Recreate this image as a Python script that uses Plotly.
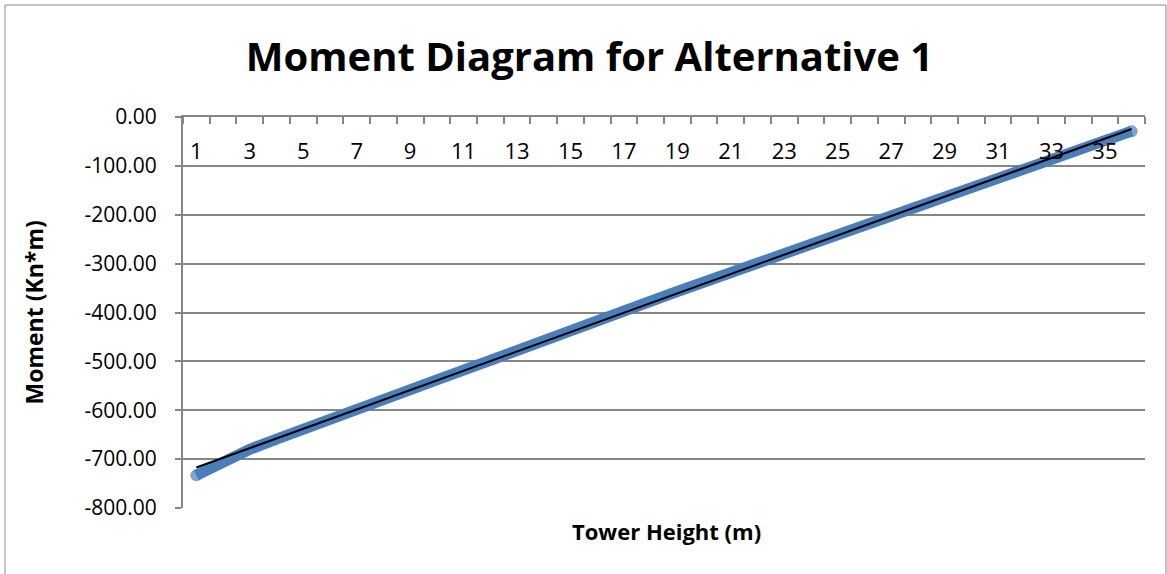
import numpy as np
import plotly.graph_objects as go

# Tower height stations (m) and bending moment at each station (kN*m)
heights = list(range(1, 37))
moment = [-733, -705, -680, -659, -638, -617, -597, -578, -558, -538,
          -518, -497, -477, -457, -437, -416, -396, -377, -357, -337,
          -318, -298, -279, -260, -240, -221, -202, -183, -164, -145,
          -126, -107, -88, -69, -49, -29]
x_tick_vals = list(range(1, 37, 2))
x_tick_labels = [str(h) for h in x_tick_vals]
y_ticks = list(range(-800, 1, 100))
y_tick_labels = ["%.2f" % v for v in y_ticks]

title_text = "Moment Diagram for Alternative 1"
x_title = "Tower Height (m)"
y_title = "Moment (Kn*m)"

FONT = "Open Sans"
GRID = "#868686"
W, H = 1167, 574
L, R, T, B = 183, 22, 117, 66
pw = W - L - R
ph = H - T - B
X_RANGE = [0.5, 36.5]

# linear trendline through the moment values
coef = np.polyfit(heights, moment, 1)
trend = np.polyval(coef, [heights[0], heights[-1]])

fig = go.Figure()
fig.add_trace(go.Scatter(
    x=heights, y=moment, mode="lines+markers",
    line=dict(color="#4A7EBB", width=11),
    marker=dict(color="#4A7EBB",
                size=[12] + [0] * (len(heights) - 2) + [12],
                line=dict(width=0)),
    showlegend=False, hoverinfo="x+y",
))
# trendline sits on the label axis (same range as the main x axis)
fig.add_trace(go.Scatter(
    x=[heights[0], heights[-1]], y=list(trend), mode="lines",
    line=dict(color="black", width=2), showlegend=False,
    xaxis="x2", yaxis="y",
))

# outer chart border
fig.add_shape(type="rect", xref="paper", yref="paper",
              x0=(5 - L) / pw, x1=(W - 1 - L) / pw,
              y0=-(B + 10) / ph, y1=1 + (T - 5) / ph,
              line=dict(color="#8a8a8a", width=1), layer="below")

fig.update_layout(
    width=W, height=H,
    margin=dict(l=L, r=R, t=T, b=B),
    paper_bgcolor="white", plot_bgcolor="white",
    title=dict(text=title_text, x=(247 + 932) / 2 / W, xanchor="center",
               y=1 - 57 / H, yanchor="middle",
               font=dict(family=FONT, size=40, color="black", weight="bold")),
    font=dict(family=FONT, color="black"),
    # category axis line crossing at 0, with ticks between stations
    xaxis=dict(
        type="linear", range=X_RANGE, side="top",
        showticklabels=False, ticks="",
        minor=dict(ticks="inside", ticklen=7, tickcolor=GRID, tickwidth=1.5,
                   tick0=0.5, dtick=1, showgrid=False),
        showline=True, linecolor=GRID, linewidth=2,
        showgrid=False, zeroline=False,
    ),
    # station labels hanging just below the crossing line
    xaxis2=dict(
        type="linear", range=X_RANGE, overlaying="x", side="bottom",
        anchor="free", position=(H - B - 136) / ph,
        tickmode="array", tickvals=x_tick_vals, ticktext=x_tick_labels,
        ticks="", showline=False, showgrid=False, zeroline=False,
        tickfont=dict(size=22, family=FONT, color="black"),
    ),
    yaxis=dict(
        range=[-800, 0], tickmode="array", tickvals=y_ticks,
        ticktext=y_tick_labels,
        ticks="outside", ticklen=6, tickcolor=GRID, tickwidth=1.5,
        ticklabelstandoff=14, tickfont=dict(size=21, family=FONT),
        showline=True, linecolor=GRID, linewidth=2,
        showgrid=True, gridcolor=GRID, gridwidth=1.5, zeroline=False,
    ),
)

fig.add_annotation(
    text=x_title, xref="paper", yref="paper", x=(666 - L) / pw,
    y=-(531 - (H - B)) / ph, showarrow=False, xanchor="center", yanchor="middle",
    font=dict(family=FONT, size=22, color="black", weight="bold"),
)
fig.add_annotation(
    text=y_title, xref="paper", yref="paper", x=-(L - 33) / pw,
    y=0.5, showarrow=False, xanchor="center", yanchor="middle", textangle=-90,
    font=dict(family=FONT, size=23, color="black", weight="bold"),
)

fig.write_html("out.html")
